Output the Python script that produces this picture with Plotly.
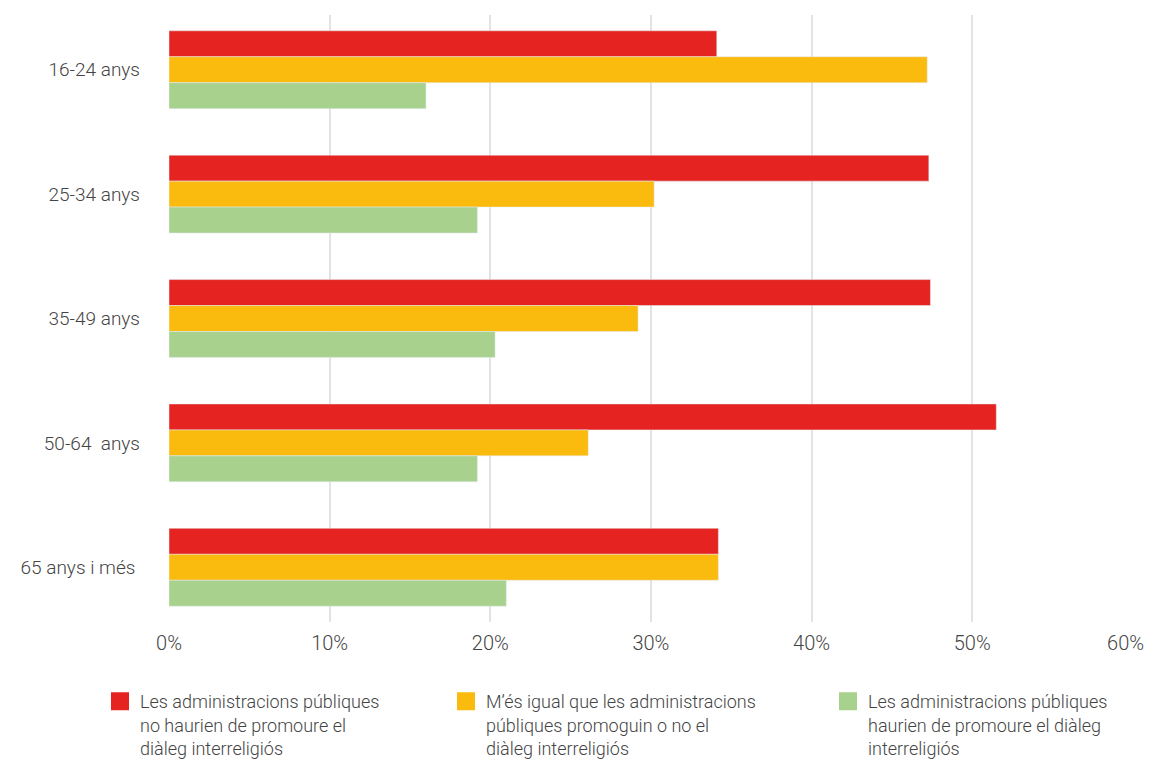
import plotly.graph_objects as go

categories = ["16-24 anys", "25-34 anys", "35-49 anys", "50-64\u00a0 anys", "65 anys i més\u00a0"]
series_names = [
    "Les administracions públiques<br>no haurien de promoure el<br>diàleg interreligiós",
    "M’és igual que les administracions<br>públiques promoguin o no el<br>diàleg interreligiós",
    "Les administracions públiques<br>haurien de promoure el diàleg<br>interreligiós",
]
red_vals = [34.1, 47.3, 47.4, 51.5, 34.2]
yellow_vals = [47.2, 30.2, 29.2, 26.1, 34.2]
green_vals = [16.0, 19.2, 20.3, 19.2, 21.0]
colors = ["#E52421", "#FBBA0E", "#A9D18E"]
x_ticks = [0, 10, 20, 30, 40, 50, 60]
x_tick_labels = ["0%", "10%", "20%", "30%", "40%", "50%", "60%\u00a0\u00a0\u00a0"]

W, H = 1147, 751  # page body has an 8px margin
font_family = "Roboto, Liberation Sans, Arial, sans-serif"
legend_ids = ["legend", "legend2", "legend3"]
legend_x = [92, 438, 820]  # left edges of the three legend entries (px)

fig = go.Figure()
for name, vals, col in zip(series_names, [red_vals, yellow_vals, green_vals], colors):
    fig.add_trace(go.Bar(y=categories, x=vals, orientation="h", marker_color=col,
                         name=name, showlegend=False, hoverinfo="x+y"))
for name, col, lid in zip(series_names, colors, legend_ids):
    fig.add_trace(go.Scatter(x=[None], y=[None], mode="markers", name=name, legend=lid,
                             marker=dict(symbol="square", size=16, color=col,
                                         line=dict(color=col, width=2))))

legend_common = dict(orientation="h", xref="container", yref="container",
                     xanchor="left", y=1 - 675 / H, yanchor="top",
                     font=dict(size=18, color="#444444", weight=300),
                     itemsizing="trace", valign="top")
fig.update_layout(
    width=W, height=H,
    margin=dict(l=161, r=22, t=7, b=137),
    paper_bgcolor="white", plot_bgcolor="white",
    barmode="group", bargap=0.374, bargroupgap=0,
    font=dict(family=font_family, size=18, color="#444444", weight=300),
    xaxis=dict(range=[0, 60.01], tickvals=x_ticks, ticktext=x_tick_labels,
               showgrid=True, gridcolor="#E3E3E3", gridwidth=1.5, zeroline=False,
               showline=False, ticks="", tickfont=dict(size=20), fixedrange=True,
               ticklabelstandoff=7, ticklabeloverflow="allow", automargin=False),
    yaxis=dict(categoryorder="array", categoryarray=categories, range=[4.44, -0.44],
               showgrid=False, ticks="", ticklabelstandoff=28, showline=False,
               tickfont=dict(size=19), automargin=False),
    showlegend=True,
)
for lid, lx in zip(legend_ids, legend_x):
    fig.update_layout({lid: dict(legend_common, x=lx / W)})
fig.write_html("out.html")
